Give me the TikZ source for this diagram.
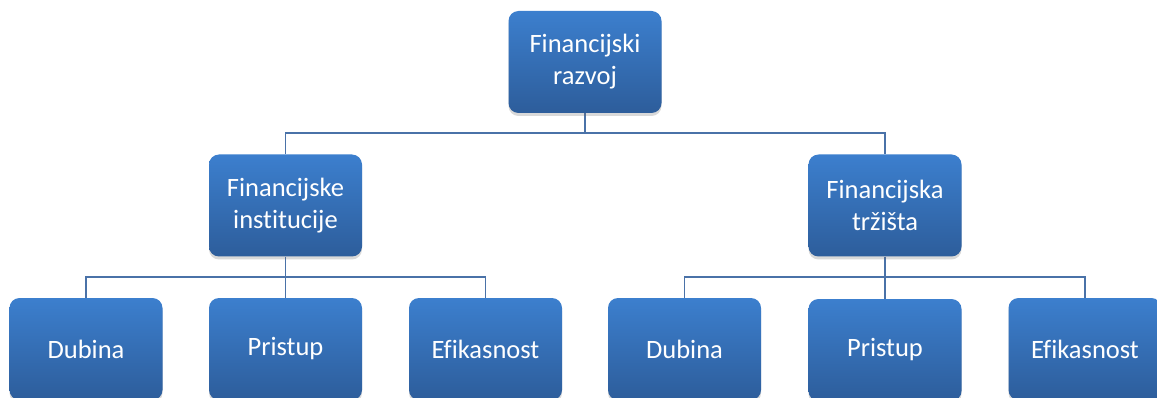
\documentclass[tikz,border=0pt]{standalone}
\usepackage{fontspec}
\setmainfont{Carlito}[Ligatures={NoCommon}]
\usetikzlibrary{shadows,backgrounds}
\definecolor{boxtop}{RGB}{60,127,206}
\definecolor{boxbot}{RGB}{45,93,155}
\definecolor{linkc}{RGB}{74,114,168}
\tikzset{
  orgbox/.style={rectangle, rounded corners=10pt, minimum width=153pt, minimum height=102pt,
    top color=boxtop, bottom color=boxbot, draw=none, text=white, align=center,
    font=\fontsize{26.5}{32}\selectfont, inner sep=0pt,
    drop shadow={shadow xshift=0pt, shadow yshift=-3pt, opacity=0.25, fill=black!60}},
  link/.style={draw=linkc, line width=1.8pt}
}
\begin{document}
\begin{tikzpicture}[x=1pt,y=-1pt]
\useasboundingbox (0,0) rectangle (1157,398);
\clip (0,0) rectangle (1157,398);
\node[orgbox] (top) at (585,62) {Financijski\\razvoj};
\node[orgbox] (L) at (285.5,205.5) {Financijske\\institucije};
\node[orgbox] (R) at (885,205.5) {Financijska\\tržišta};
\node[orgbox] (L1) at (86,349) {Dubina};
\node[orgbox] (L2) at (285.5,349) {Pristup};
\node[orgbox] (L3) at (485.5,349) {Efikasnost};
\node[orgbox] (R1) at (684.5,349) {Dubina};
\node[orgbox] (R2) at (885,350) {Pristup};
\node[orgbox] (R3) at (1085,349) {Efikasnost};
\coordinate (bus0) at (0,133);
\coordinate (bus1) at (0,277);
\begin{scope}[on background layer]
\draw[link] (top.south) -- (top.south |- bus0) -| (L.north);
\draw[link] (top.south |- bus0) -| (R.north);
\draw[link] (L.south) -- (L.south |- bus1) -| (L1.north);
\draw[link] (L.south |- bus1) -| (L3.north);
\draw[link] (L.south |- bus1) -- (L2.north);
\draw[link] (R.south) -- (R.south |- bus1) -| (R1.north);
\draw[link] (R.south |- bus1) -| (R3.north);
\draw[link] (R.south |- bus1) -- (R2.north);
\end{scope}
\end{tikzpicture}
\end{document}
